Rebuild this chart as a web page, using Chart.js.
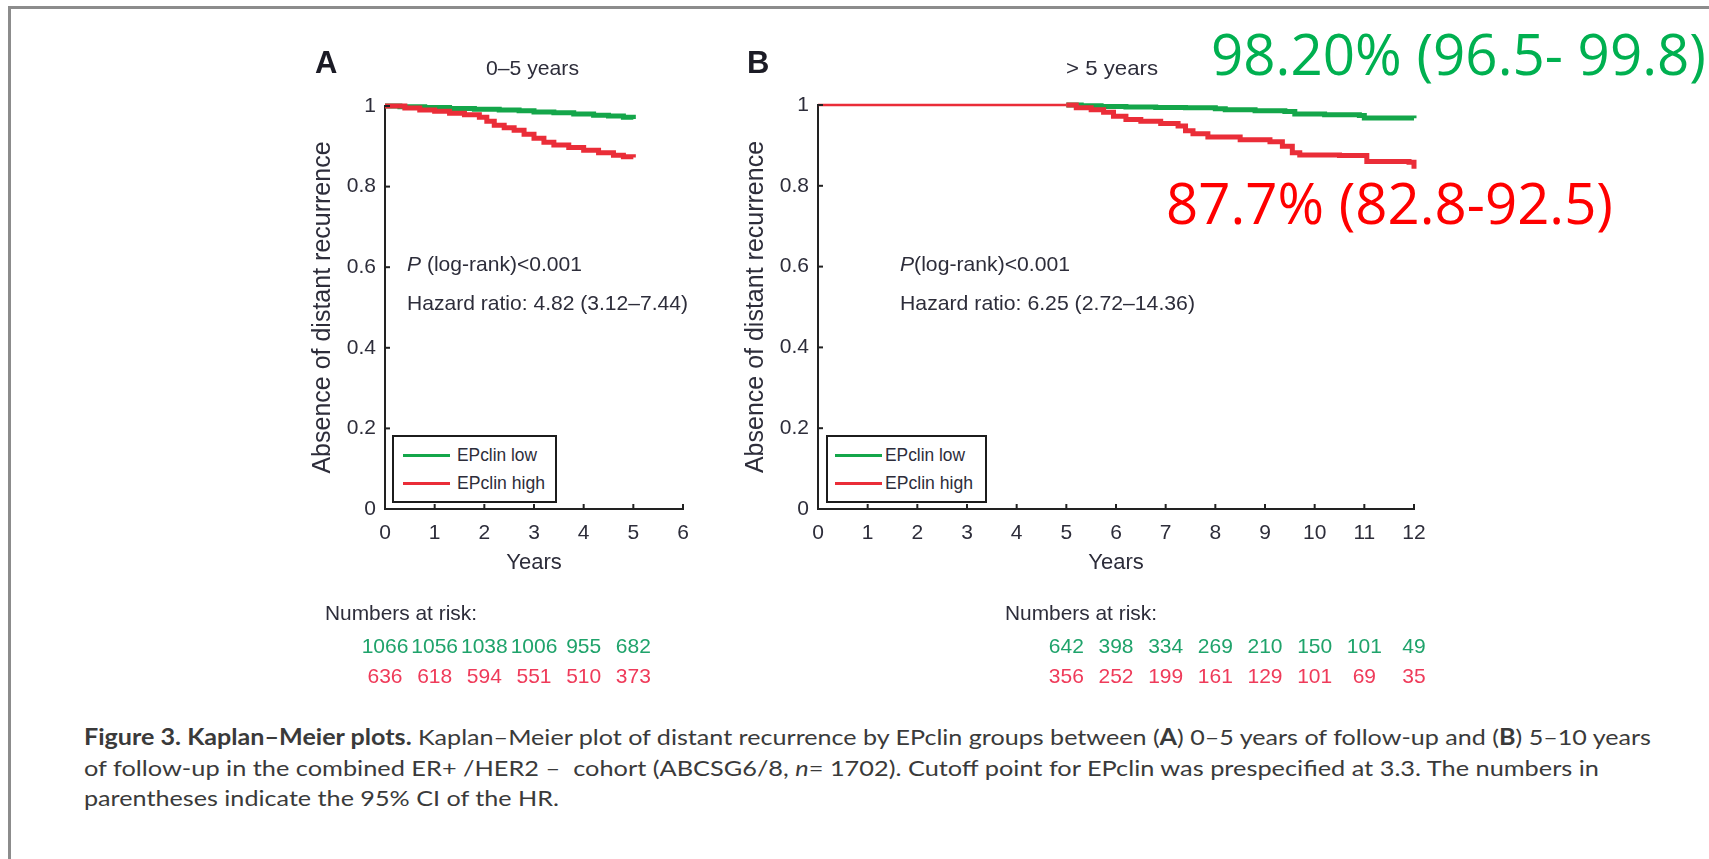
<!DOCTYPE html>
<html>
<head>
<meta charset="utf-8">
<script src="https://cdn.jsdelivr.net/npm/chart.js@4.4.1/dist/chart.umd.min.js"></script>
<style>
  html, body { margin: 0; padding: 0; background: #fff; }
  body { width: 1709px; height: 859px; position: relative; overflow: hidden; font-family: 'Liberation Sans', Arial, sans-serif; color: #2d2d3a; }
  .frame { position: absolute; left: 8px; top: 6px; width: 1720px; height: 870px; border-left: 3px solid #8c8c8c; border-top: 3px solid #8c8c8c; }
  canvas { position: absolute; top: 0; }
  .t { position: absolute; white-space: nowrap; line-height: 1; transform-origin: 0 0; }
  .legend { position: absolute; border: 2.5px solid #1c1c1c; box-sizing: border-box; background: #fff; }
  .sw { position: absolute; height: 3px; }
</style>
</head>
<body>
<div class="frame"></div>
<canvas id="chartA" width="420" height="700" style="left:290px"></canvas>
<canvas id="chartB" width="986" height="700" style="left:723px"></canvas>

<div class="legend" style="left:392px;top:435px;width:165px;height:68px">
  <div class="sw" style="left:9px;top:17px;width:47px;background:#14a64a"></div>
  <div class="sw" style="left:9px;top:45px;width:47px;background:#ea2d38"></div>
</div>
<div class="legend" style="left:826px;top:435px;width:161px;height:68px">
  <div class="sw" style="left:7px;top:17px;width:47px;background:#14a64a"></div>
  <div class="sw" style="left:7px;top:45px;width:47px;background:#ea2d38"></div>
</div>

<script>
// axes
const xTicksA = [0, 1, 2, 3, 4, 5, 6];
const xTicksB = [0, 1, 2, 3, 4, 5, 6, 7, 8, 9, 10, 11, 12];
const yTicks = [0, 0.2, 0.4, 0.6, 0.8, 1];

// panel A, 0-5 years
const lowTimesA = [0, 0.3, 0.8, 1.3, 1.8, 2.3, 2.7, 3.0, 3.4, 3.8, 4.2, 4.5, 4.8, 5.0];
const lowSurvA = [1, 0.998, 0.996, 0.994, 0.992, 0.99, 0.988, 0.985, 0.983, 0.98, 0.977, 0.975, 0.972, 0.968];
const highTimesA = [0, 0.4, 0.7, 1.0, 1.3, 1.6, 1.9, 2.05, 2.2, 2.4, 2.6, 2.8, 3.0, 3.2, 3.4, 3.7, 4.0, 4.3, 4.6, 4.8, 5.0];
const highSurvA = [1, 0.995, 0.99, 0.987, 0.982, 0.978, 0.972, 0.962, 0.952, 0.946, 0.94, 0.93, 0.92, 0.91, 0.903, 0.897, 0.89, 0.884, 0.878, 0.874, 0.872];

// panel B, > 5 years
const lowTimesB = [5.0, 5.3, 5.7, 6.2, 6.8, 7.4, 8.0, 8.2, 8.8, 9.4, 9.6, 10.2, 10.9, 11.0, 11.5, 12.0];
const lowSurvB = [1, 0.998, 0.996, 0.995, 0.994, 0.993, 0.991, 0.988, 0.986, 0.984, 0.978, 0.976, 0.974, 0.968, 0.968, 0.967];
const highTimesB = [0, 5.0, 5.2, 5.5, 5.75, 5.95, 6.2, 6.5, 6.9, 7.25, 7.4, 7.55, 7.85, 8.5, 9.1, 9.35, 9.55, 9.7, 10.5, 11.05, 11.9, 12.0];
const highSurvB = [1, 1, 0.993, 0.988, 0.982, 0.972, 0.964, 0.96, 0.954, 0.948, 0.936, 0.929, 0.921, 0.914, 0.909, 0.898, 0.882, 0.876, 0.875, 0.86, 0.858, 0.842];

// numbers at risk
const riskTimesA = [0, 1, 2, 3, 4, 5];
const riskLowA = [1066, 1056, 1038, 1006, 955, 682];
const riskHighA = [636, 618, 594, 551, 510, 373];
const riskTimesB = [5, 6, 7, 8, 9, 10, 11, 12];
const riskLowB = [642, 398, 334, 269, 210, 150, 101, 49];
const riskHighB = [356, 252, 199, 161, 129, 101, 69, 35];

const GREEN = '#14a64a';
const RED = '#ea2d38';
const INK = '#2d2d3a';
const LIB = "'Liberation Sans', Arial, sans-serif";

const toPts = (ts, ss) => ts.map((t, i) => ({ x: t, y: ss[i] }));

// small tick marks pointing into the plot
const innerTicks = {
  id: 'innerTicks',
  afterDraw(chart) {
    const { ctx, chartArea, scales: { x, y } } = chart;
    ctx.save();
    ctx.strokeStyle = '#222';
    ctx.lineWidth = 2;
    x.ticks.forEach(t => {
      if (t.value === 0) return;
      const px = x.getPixelForValue(t.value);
      ctx.beginPath(); ctx.moveTo(px, chartArea.bottom); ctx.lineTo(px, chartArea.bottom - 5); ctx.stroke();
    });
    y.ticks.forEach(t => {
      if (t.value === 0) return;
      const py = y.getPixelForValue(t.value);
      ctx.beginPath(); ctx.moveTo(chartArea.left, py); ctx.lineTo(chartArea.left + 5, py); ctx.stroke();
    });
    ctx.restore();
  }
};

function riskPlugin(times, low, high) {
  return {
    id: 'riskTable',
    afterDraw(chart) {
      const { ctx, scales: { x } } = chart;
      ctx.save();
      ctx.font = '21px ' + LIB;
      ctx.textAlign = 'center';
      ctx.textBaseline = 'alphabetic';
      times.forEach((t, i) => {
        const px = x.getPixelForValue(t);
        ctx.fillStyle = '#1fa36b';
        ctx.fillText(String(low[i]), px, 653);
        ctx.fillStyle = '#ef3b5a';
        ctx.fillText(String(high[i]), px, 683);
      });
      ctx.restore();
    }
  };
}

// the flat part before any event is drawn thinner, as in the figure
const flatThin = { borderWidth: c => (c.p0.parsed.y === 1 && c.p1.parsed.y === 1 ? 2.5 : 5) };

function kmChart(id, cfg) {
  return new Chart(document.getElementById(id), {
    type: 'line',
    data: {
      datasets: [
        { label: 'EPclin high', data: cfg.high, borderColor: RED, borderWidth: 5, stepped: true, pointRadius: 0, clip: false, segment: cfg.segment },
        { label: 'EPclin low', data: cfg.low, borderColor: GREEN, borderWidth: 5, stepped: true, pointRadius: 0, clip: false }
      ]
    },
    options: {
      responsive: false,
      animation: false,
      layout: { padding: { top: cfg.top, right: cfg.right, bottom: 121, left: 0 } },
      plugins: { legend: { display: false }, tooltip: { enabled: false } },
      scales: {
        x: {
          type: 'linear', min: 0, max: cfg.xMax,
          afterBuildTicks: s => { s.ticks = cfg.xTicks.map(v => ({ value: v })); },
          afterFit: s => { s.height = 70; },
          grid: { display: false, drawTicks: false },
          border: { color: '#222', width: 2 },
          ticks: { font: { family: LIB, size: 21 }, color: INK, padding: 12, maxRotation: 0 },
          title: { display: true, text: 'Years', font: { family: LIB, size: 22 }, color: INK, padding: { top: 0, bottom: 3 } }
        },
        y: {
          min: 0, max: 1,
          afterBuildTicks: s => { s.ticks = yTicks.map(v => ({ value: v })); },
          afterFit: s => { s.width = 95; },
          grid: { display: false, drawTicks: false },
          border: { color: '#222', width: 2 },
          ticks: { font: { family: LIB, size: 21 }, color: INK, padding: 9, callback: v => String(v) },
          title: { display: true, text: 'Absence of distant recurrence', font: { family: LIB, size: 25 }, color: INK, padding: { top: 18, bottom: 0 } }
        }
      }
    },
    plugins: [innerTicks, cfg.risk]
  });
}

kmChart('chartA', {
  low: toPts(lowTimesA, lowSurvA), high: toPts(highTimesA, highSurvA),
  xMax: 6, xTicks: xTicksA, top: 106, right: 27,
  risk: riskPlugin(riskTimesA, riskLowA, riskHighA)
});
kmChart('chartB', {
  low: toPts(lowTimesB, lowSurvB), high: toPts(highTimesB, highSurvB),
  xMax: 12, xTicks: xTicksB, top: 105, right: 295, segment: flatThin,
  risk: riskPlugin(riskTimesB, riskLowB, riskHighB)
});

// text placed by its baseline, optionally squeezed to a width
function put(html, x, base, css, fitW) {
  const el = document.createElement('div');
  el.className = 't';
  el.style.cssText = 'left:' + x + 'px;top:0px;' + css;
  el.innerHTML = html + '<span style="display:inline-block;width:0;height:0"></span>';
  document.body.appendChild(el);
  const b = el.lastChild.getBoundingClientRect().top;
  el.style.top = (base - b) + 'px';
  if (fitW) {
    const w = el.getBoundingClientRect().width;
    el.style.transform = 'scaleX(' + (fitW / w) + ')';
  }
}

const txt = 'font-family:' + LIB + ';font-size:21px;color:' + INK + ';';
put('A', 315, 73, 'font-family:' + LIB + ';font-size:31px;font-weight:bold;color:#1b1b25;');
put('B', 747, 73, 'font-family:' + LIB + ';font-size:31px;font-weight:bold;color:#1b1b25;');
put('0–5 years', 486, 75, txt, 93);
put('&gt; 5 years', 1066, 75, txt, 92);
put('<i>P</i> (log-rank)&lt;0.001', 407, 271, txt, 175);
put('Hazard ratio: 4.82 (3.12–7.44)', 407, 310, txt, 281);
put('<i>P</i>(log-rank)&lt;0.001', 900, 271, txt, 170);
put('Hazard ratio: 6.25 (2.72–14.36)', 900, 310, txt, 295);
put('Numbers at risk:', 325, 620, txt, 152);
put('Numbers at risk:', 1005, 620, txt, 152);

const leg = 'font-family:' + LIB + ';font-size:18px;color:' + INK + ';';
put('EPclin low', 457, 461, leg, 80);
put('EPclin high', 457, 489, leg, 88);
put('EPclin low', 885, 461, leg, 80);
put('EPclin high', 885, 489, leg, 88);

const big = "font-family:'Open Sans', sans-serif;font-size:57px;";
put('98.20% (96.5- 99.8)', 1211, 75, big + 'color:#00b050;', 495);
put('87.7% (82.8-92.5)', 1166, 224, big + 'color:#ff0000;', 447);

const cap = "font-family:Lato, sans-serif;font-size:22px;color:#3a3a3a;";
put('<b>Figure 3. Kaplan–Meier plots.</b> Kaplan–Meier plot of distant recurrence by EPclin groups between (<b>A</b>) 0–5 years of follow-up and (<b>B</b>) 5–10 years', 84, 745, cap, 1567);
put('of follow-up in the combined ER+ /HER2 –&nbsp; cohort (ABCSG6/8, <i>n</i>= 1702). Cutoff point for EPclin was prespecified at 3.3. The numbers in', 84, 776, cap, 1515);
put('parentheses indicate the 95% CI of the HR.', 84, 806, cap, 475);
</script>
</body>
</html>
